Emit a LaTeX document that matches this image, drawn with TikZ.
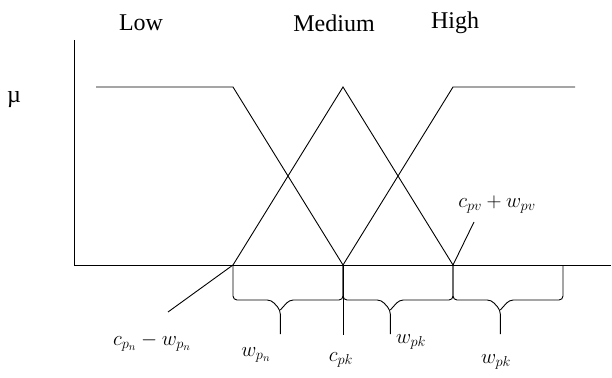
\documentclass[tikz,border=0pt]{standalone}
\usepackage{fontspec}
\setmainfont{Liberation Serif}
\usepackage{tikz}
\usetikzlibrary{positioning,calc}
\tikzset{
  mfline/.style={line width=0.9pt, draw=black},
  mfbrace/.style={line width=0.9pt, draw=black, rounded corners=4pt},
  mflabel/.style={font=\fontsize{24}{28}\selectfont, inner sep=0pt},
  mfmath/.style={font=\fontsize{22}{25}\selectfont, inner sep=0pt}
}
\begin{document}
\begin{tikzpicture}[x=1pt,y=-1pt]
  \useasboundingbox (0,0) rectangle (612,377);
  % axes
  \coordinate (o) at (74,265);
  \coordinate (ytop) at (74,40);
  \coordinate (xend) at (611,265);
  \draw[mfline] (ytop) -- (o) -- (xend);
  \node[mflabel] (mu) at (14,100) {µ};
  % corner points of the sets
  \foreach \n/\x in {L/233,M/343,H/453,E/563} {
    \coordinate (b\n) at (\x,265);
    \coordinate (t\n) at (\x,87);
  }
  \coordinate (lowstart) at (96,87);
  \coordinate (highend) at (575,87);
  \draw[mfline] (lowstart) -- (tL) -- (bM);
  \draw[mfline] (bL) -- (tM) -- (bH);
  \draw[mfline] (bM) -- (tH) -- (highend);
  \node[mflabel] (low) at (141,23) {Low};
  \node[mflabel] (medium) at (334,23) {Medium};
  \node[mflabel] (high) at (455,23) {High};
  % widths
  \foreach \a/\b in {L/M,M/H,H/E} {
    \coordinate (tip) at ($(b\a)!0.43!(b\b)$);
    \draw[mfbrace] (b\a) -- ++(0,35) -- ($(tip)+(-9,35)$) -- ($(tip)+(0,45)$) -- ($(tip)+(0,69)$);
    \draw[mfbrace] (b\b) -- ++(0,35) -- ($(tip)+(9,35)$) -- ($(tip)+(0,45)$);
  }
  \coordinate (cmark) at (343,335);
  \draw[mfline] (bM) -- (cmark);
  % labels
  \node[mfmath] (lolab) at (152,342) {$c_{p_n}-w_{p_n}$};
  \coordinate (lolead) at (168,312);
  \draw[mfline] (bL) -- (lolead);
  \node[mfmath] (hilab) at (497,205) {$c_{pv}+w_{pv}$};
  \coordinate (hilead) at (474,222);
  \draw[mfline] (bH) -- (hilead);
  \node[mfmath] (wlow) at (256,355) {$w_{p_n}$};
  \node[mfmath] (cmed) at (341,360) {$c_{pk}$};
  \node[mfmath] (wmed) at (411,342) {$w_{pk}$};
  \node[mfmath] (whigh) at (496,362) {$w_{pk}$};
\end{tikzpicture}
\end{document}
